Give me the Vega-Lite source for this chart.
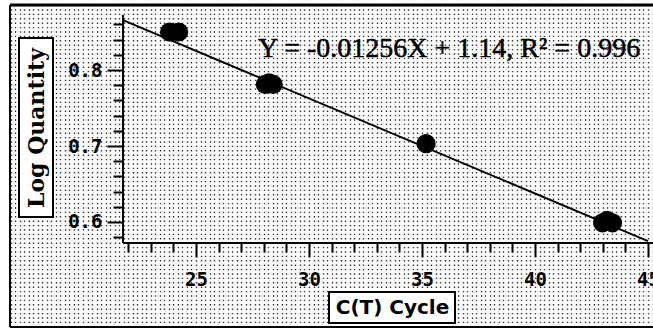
{
  "$schema": "https://vega.github.io/schema/vega-lite/v6.json",
  "width": 643,
  "height": 322,
  "autosize": {"type": "none"},
  "padding": {"left": 10, "top": 5, "right": 0, "bottom": 2},
  "background": "white",
  "config": {"view": {"stroke": null}},
  "datasets": {
    "standards": [
      {"cycle": 23.83, "logq": 0.850},
      {"cycle": 24.23, "logq": 0.850},
      {"cycle": 28.07, "logq": 0.781},
      {"cycle": 28.23, "logq": 0.783},
      {"cycle": 28.41, "logq": 0.781},
      {"cycle": 35.18, "logq": 0.703},
      {"cycle": 42.99, "logq": 0.599},
      {"cycle": 43.19, "logq": 0.602},
      {"cycle": 43.43, "logq": 0.599}
    ],
    "fit": [
      {"cycle": 21.77, "logq": 0.8657},
      {"cycle": 45.0, "logq": 0.5748}
    ],
    "equation": [
      {"label": "Y = -0.01256X + 1.14, R² = 0.996"}
    ],
    "single": [{}]
  },
  "layer": [
    {
      "data": {"name": "fit"},
      "mark": {"type": "line", "color": "black", "strokeWidth": 2},
      "encoding": {
        "x": {
          "field": "cycle", "type": "quantitative",
          "scale": {"domain": [16.77, 45.221], "nice": false, "zero": false},
          "axis": {
            "orient": "top", "grid": true, "ticks": false, "labels": false, "domain": false,
            "title": null, "tickCount": 150,
            "gridDash": [1.4, 3.0], "gridColor": "#000000", "gridWidth": 1.4, "gridOpacity": 0.8,
            "zindex": 0
          }
        },
        "y": {
          "field": "logq", "type": "quantitative",
          "scale": {"domain": [0.46184, 0.88553], "nice": false, "zero": false},
          "axis": null
        }
      }
    },
    {
      "data": {"name": "single"},
      "mark": {"type": "rect", "fill": "white", "stroke": "black", "strokeWidth": 2},
      "encoding": {
        "x": {"datum": 17.168, "type": "quantitative", "axis": null},
        "x2": {"datum": 18.673},
        "y": {"datum": 0.84211, "type": "quantitative", "axis": null},
        "y2": {"datum": 0.60658}
      }
    },
    {
      "data": {"name": "single"},
      "mark": {"type": "rect", "fill": "white", "stroke": "black", "strokeWidth": 2},
      "encoding": {
        "x": {"datum": 30.885, "type": "quantitative", "axis": null},
        "x2": {"datum": 36.46},
        "y": {"datum": 0.5079, "type": "quantitative", "axis": null},
        "y2": {"datum": 0.46711}
      }
    },
    {
      "data": {"name": "standards"},
      "mark": {"type": "circle", "color": "black", "opacity": 1, "size": 370},
      "encoding": {
        "x": {
          "field": "cycle", "type": "quantitative",
          "axis": {
            "orient": "bottom", "offset": -84,
            "values": [22, 23, 24, 25, 26, 27, 28, 29, 30, 31, 32, 33, 34, 35, 36, 37, 38, 39, 40, 41, 42, 43, 44, 45],
            "domain": false, "grid": false,
            "tickSize": {"condition": {"test": "datum.value % 5 === 0", "value": 14}, "value": 9},
            "tickWidth": 2, "tickColor": "black",
            "labelExpr": "datum.value % 5 === 0 ? datum.label : ''",
            "labelFont": "DejaVu Sans Mono", "labelFontSize": 19, "labelFontWeight": "bold", "labelColor": "black",
            "labelPadding": 13, "labelFlush": false, "labelOverlap": false,
            "title": "C(T) Cycle",
            "titleFont": "DejaVu Sans", "titleFontWeight": "bold", "titleFontSize": 20, "titleColor": "black",
            "titleX": 382, "titleY": 64.5, "titleAlign": "center", "titleBaseline": "middle",
            "zindex": 1
          }
        },
        "y": {
          "field": "logq", "type": "quantitative",
          "axis": {
            "orient": "left", "offset": -113,
            "values": [0.58, 0.6, 0.62, 0.64, 0.66, 0.68, 0.7, 0.72, 0.74, 0.76, 0.78, 0.8, 0.82, 0.84, 0.86],
            "domain": false, "grid": false,
            "tickSize": {"condition": {"test": "abs(datum.value * 10 - round(datum.value * 10)) < 0.001", "value": 16}, "value": 10},
            "tickWidth": 2, "tickColor": "black",
            "labelExpr": "abs(datum.value * 10 - round(datum.value * 10)) < 0.001 ? format(datum.value, '.1f') : ''",
            "labelFont": "DejaVu Sans Mono", "labelFontSize": 19, "labelFontWeight": "bold", "labelColor": "black",
            "labelPadding": 5, "labelFlush": false, "labelOverlap": false,
            "title": "Log Quantity",
            "titleFont": "DejaVu Serif", "titleFontWeight": "bold", "titleFontSize": 22, "titleColor": "black",
            "titleAngle": -90, "titleX": -87, "titleY": 122.5, "titleAlign": "center", "titleBaseline": "middle",
            "zindex": 1
          }
        }
      }
    },
    {
      "data": {"name": "equation"},
      "mark": {"type": "text", "align": "left", "baseline": "alphabetic", "font": "Liberation Serif", "fontSize": 28, "color": "black", "stroke": "black", "strokeWidth": 0.5},
      "encoding": {
        "x": {"datum": 27.743, "type": "quantitative", "axis": null},
        "y": {"datum": 0.81711, "type": "quantitative", "axis": null},
        "text": {"field": "label"}
      }
    },
    {
      "data": {"name": "single"},
      "mark": {"type": "rule", "color": "black", "strokeWidth": 2},
      "encoding": {
        "x": {"datum": 21.77, "type": "quantitative", "axis": null},
        "y": {"datum": 0.5724, "type": "quantitative", "axis": null},
        "y2": {"datum": 0.8724}
      }
    },
    {
      "data": {"name": "single"},
      "mark": {"type": "rule", "color": "black", "strokeWidth": 2},
      "encoding": {
        "x": {"datum": 21.77, "type": "quantitative", "axis": null},
        "x2": {"datum": 45.221},
        "y": {"datum": 0.5724, "type": "quantitative", "axis": null}
      }
    },
    {
      "data": {"name": "single"},
      "mark": {"type": "rule", "color": "black", "strokeWidth": 3},
      "encoding": {
        "x": {"datum": 16.77, "type": "quantitative", "axis": null},
        "x2": {"datum": 45.221},
        "y": {"datum": 0.88553, "type": "quantitative", "axis": null}
      }
    },
    {
      "data": {"name": "single"},
      "mark": {"type": "rule", "color": "black", "strokeWidth": 2},
      "encoding": {
        "x": {"datum": 16.77, "type": "quantitative", "axis": null},
        "y": {"datum": 0.46184, "type": "quantitative", "axis": null},
        "y2": {"datum": 0.88553}
      }
    },
    {
      "data": {"name": "single"},
      "mark": {"type": "rule", "color": "black", "strokeWidth": 2},
      "encoding": {
        "x": {"datum": 16.77, "type": "quantitative", "axis": null},
        "x2": {"datum": 45.221},
        "y": {"datum": 0.46184, "type": "quantitative", "axis": null}
      }
    }
  ],
  "resolve": {"axis": {"x": "independent", "y": "independent"}}
}
